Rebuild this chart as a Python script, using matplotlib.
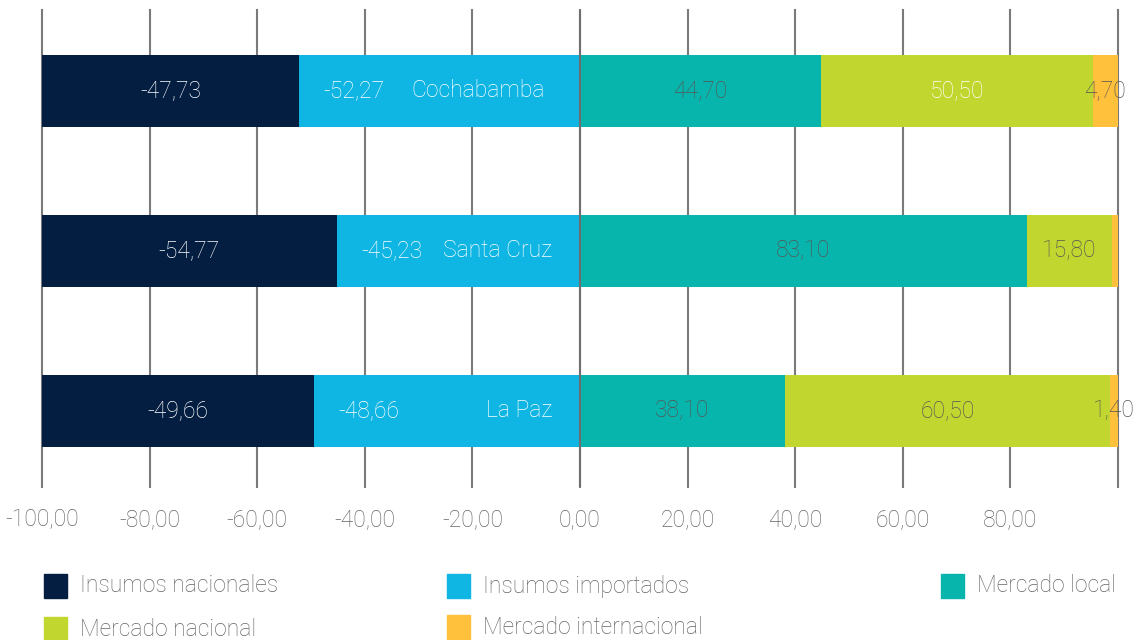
import matplotlib
matplotlib.use("Agg")
import matplotlib.pyplot as plt
from matplotlib.patches import Rectangle
import numpy as np

# ---------------- data ----------------
categories = ["La Paz", "Santa Cruz", "Cochabamba"]          # bottom -> top
insumos_nacionales = [-49.66, -54.77, -47.73]
insumos_importados = [-48.66, -45.23, -52.27]
mercado_local = [38.10, 83.10, 44.70]
mercado_nacional = [60.50, 15.80, 50.50]
mercado_internacional = [1.40, 1.10, 4.70]
show_intl_label = [True, False, True]

series_names = ["Insumos nacionales", "Insumos importados", "Mercado local",
                "Mercado nacional", "Mercado internacional"]
tick_values = [-100, -80, -60, -40, -20, 0, 20, 40, 60, 80, 100]
tick_labels = ["-100,00", "-80,00", "-60,00", "-40,00", "-20,00", "0,00",
               "20,00", "40,00", "60,00", "80,00", ""]

# ---------------- style ----------------
colors = ["#041E42", "#0FB5E3", "#08B5AD", "#C1D72F", "#FFC13B"]
GRAY_TXT = "#555555"
label_colors = [
    ["white", "white", "white"],
    ["white", "white", "white"],
    [GRAY_TXT, GRAY_TXT, GRAY_TXT],
    [GRAY_TXT, GRAY_TXT, "white"],
    [GRAY_TXT, GRAY_TXT, GRAY_TXT],
]
FONT = "Roboto"
FS = 16.5

plt.rcParams["font.family"] = [FONT, "DejaVu Sans"]

fig = plt.figure(figsize=(11.41, 6.40), dpi=100)
W, H = 1141, 640
ax = fig.add_axes([42 / W, (H - 487) / H, (1118 - 42) / W, (487 - 10) / H])

y = np.arange(len(categories))
bar_h = 0.45

# percent-stacked: each side fills 100
neg = np.array([insumos_nacionales, insumos_importados], dtype=float)
pos = np.array([mercado_local, mercado_nacional, mercado_internacional], dtype=float)
neg_n = neg / np.abs(neg).sum(axis=0) * 100
pos_n = pos / pos.sum(axis=0) * 100

fmt = lambda v: f"{v:.2f}".replace(".", ",")

# negative side: importados next to zero, nacionales outside
imp_w = neg_n[1]
nac_w = neg_n[0]
ax.barh(y, imp_w, height=bar_h, color=colors[1], zorder=2)
ax.barh(y, nac_w, left=imp_w, height=bar_h, color=colors[0], zorder=2)

cat_offsets = [-20, -20, -25]
for i in range(len(categories)):
    ax.text(imp_w[i] + nac_w[i] / 2, y[i], fmt(insumos_nacionales[i]),
            ha="center", va="center", color=label_colors[0][i], fontsize=FS,
            fontweight="light", zorder=5)
    ax.annotate(fmt(insumos_importados[i]), xy=(imp_w[i], y[i]),
                xytext=(40, 0), textcoords="offset points",
                ha="center", va="center", color=label_colors[1][i],
                fontsize=FS, fontweight="light", zorder=5)
    ax.annotate(categories[i], xy=(0, y[i]), xytext=(cat_offsets[i], 0),
                textcoords="offset points", ha="right", va="center",
                color="white", fontsize=FS, fontweight="light", zorder=5)

# positive side
left = np.zeros(len(categories))
for k in range(3):
    ax.barh(y, pos_n[k], left=left, height=bar_h, color=colors[k + 2], zorder=2)
    raw = pos[k]
    for i in range(len(categories)):
        if k == 2 and not show_intl_label[i]:
            continue
        ax.text(left[i] + pos_n[k][i] / 2, y[i], fmt(raw[i]),
                ha="center", va="center", color=label_colors[k + 2][i],
                fontsize=FS, fontweight="light", zorder=5)
    left = left + pos_n[k]

ax.axvline(0, color="#6e6e6e", linewidth=1.5, zorder=3)

ax.set_xlim(-100, 100)
ax.set_ylim(-0.475, 2.506)
ax.set_xticks(tick_values)
ax.set_xticklabels(tick_labels)
ax.set_yticks([])
ax.tick_params(axis="x", length=0, pad=15, labelsize=FS, labelcolor="#666666")
for lbl in ax.get_xticklabels():
    lbl.set_fontweight("light")
ax.grid(axis="x", color="#7a7a7a", linewidth=1.5, zorder=0)
ax.set_axisbelow(True)
for s in ax.spines.values():
    s.set_visible(False)
for gl in ax.get_xgridlines():
    gl.set_clip_on(False)

# ---------------- legend (manual layout) ----------------
legend_pos = [(44, 586), (447, 586), (941, 586), (44, 629), (447, 627)]
for name, col, (px, py) in zip(series_names, colors, legend_pos):
    fig.add_artist(Rectangle((px / W, (H - py - 12) / H), 23 / W, 24 / H,
                             transform=fig.transFigure, color=col))
    fig.text((px + 36) / W, (H - py) / H, name, ha="left", va="center",
             fontsize=FS, fontweight="light", color="#666666")

fig.savefig("out.png", dpi=100)
